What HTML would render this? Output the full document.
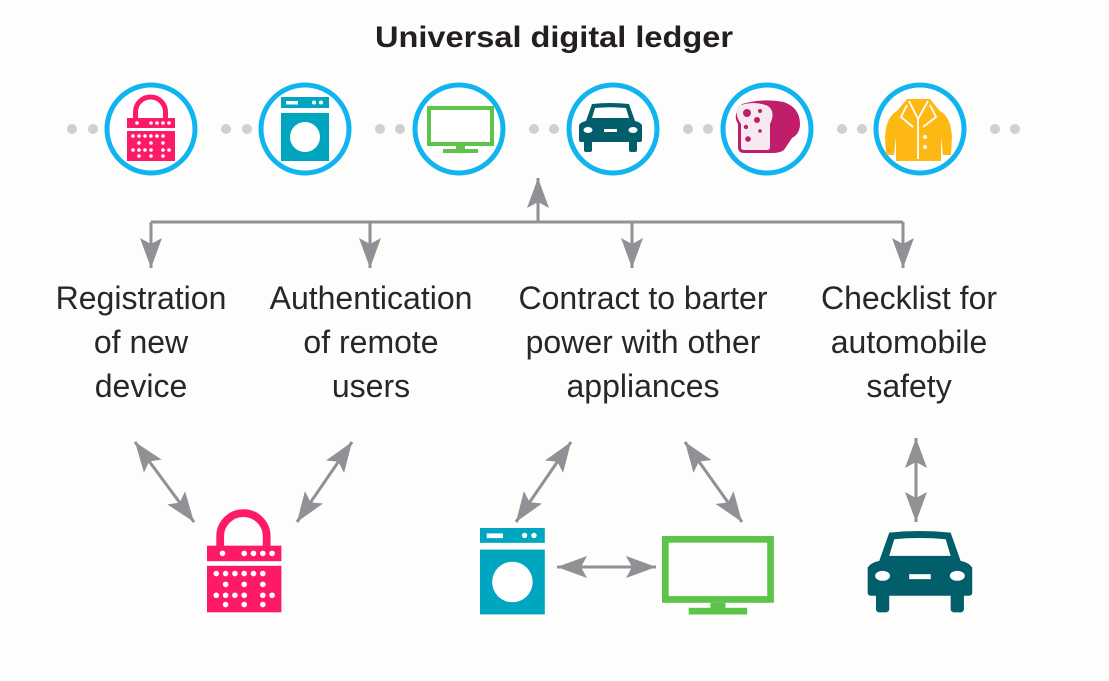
<!DOCTYPE html>
<html><head><meta charset="utf-8"><style>
html,body{margin:0;padding:0;background:#fdfdfb;}
svg{display:block;}
text{font-family:"Liberation Sans",Arial,sans-serif;}
</style></head><body>
<svg width="1109" height="681" viewBox="0 0 1109 681" xmlns="http://www.w3.org/2000/svg">
<defs>
<marker id="ah" viewBox="0 0 30 22" refX="30" refY="11" markerWidth="30" markerHeight="22" markerUnits="userSpaceOnUse" orient="auto-start-reverse">
<path d="M0,0 L30,11 L0,22 L6,11 Z" fill="#909095"/>
</marker>
<g id="lock">
<path d="M8.5,24 V17 A15,15 0 0 1 38.5,17 V24" fill="none" stroke="#ff1a66" stroke-width="5"/>
<rect x="0" y="23" width="48" height="10" fill="#ff1a66"/>
<rect x="0" y="36" width="48" height="30" fill="#ff1a66"/>
<g fill="#fff">
<circle cx="10" cy="28" r="1.8"/><circle cx="24" cy="28" r="1.8"/><circle cx="30" cy="28" r="1.8"/><circle cx="36" cy="28" r="1.8"/><circle cx="42" cy="28" r="1.8"/>
<circle cx="6" cy="41" r="1.8"/><circle cx="12" cy="41" r="1.8"/><circle cx="18" cy="41" r="1.8"/><circle cx="24" cy="41" r="1.8"/><circle cx="30" cy="41" r="1.8"/><circle cx="36" cy="41" r="1.8"/>
<circle cx="12" cy="48" r="1.8"/><circle cx="24" cy="48" r="1.8"/><circle cx="36" cy="48" r="1.8"/>
<circle cx="6" cy="55" r="1.8"/><circle cx="12" cy="55" r="1.8"/><circle cx="18" cy="55" r="1.8"/><circle cx="24" cy="55" r="1.8"/><circle cx="36" cy="55" r="1.8"/><circle cx="42" cy="55" r="1.8"/>
<circle cx="12" cy="61" r="1.8"/><circle cx="24" cy="61" r="1.8"/><circle cx="36" cy="61" r="1.8"/>
</g>
</g>
<g id="washer">
<rect x="0" y="0" width="48" height="11" fill="#00a5c0"/>
<rect x="0" y="16" width="48" height="48" fill="#00a5c0"/>
<rect x="5" y="4" width="12" height="3.5" fill="#fff"/>
<circle cx="33" cy="5.5" r="2" fill="#fff"/><circle cx="40" cy="5.5" r="2" fill="#fff"/>
<ellipse cx="24" cy="40" rx="15" ry="15" fill="#fff"/>
</g>
<g id="tv">
<rect x="2" y="2" width="63" height="36" fill="none" stroke="#5cc449" stroke-width="4"/>
<rect x="29" y="40" width="9" height="4" fill="#5cc449"/>
<rect x="16" y="43" width="35" height="4" fill="#5cc449"/>
</g>
<g id="car">
<path d="M14,1 Q32,-1 51,1 L57,18 Q62,19 64,22 V37 Q64,39 62,39 H3 Q1,39 1,37 V22 Q3,19 8,18 Z" fill="#035e6b"/>
<rect x="6" y="36" width="8" height="13" rx="2" fill="#035e6b"/>
<rect x="51" y="36" width="8" height="13" rx="2" fill="#035e6b"/>
<path d="M17,5 Q32,3.5 48,5 L51,15 H14 Z" fill="#fff"/>
<ellipse cx="10" cy="27" rx="4.5" ry="3" fill="#fff"/>
<ellipse cx="55" cy="27" rx="4.5" ry="3" fill="#fff"/>
<rect x="26" y="26" width="13" height="3" fill="#fff"/>
</g>
</defs>

<text x="554" y="47" text-anchor="middle" font-size="30" font-weight="bold" fill="#231f20" textLength="358" lengthAdjust="spacingAndGlyphs">Universal digital ledger</text>

<g fill="#d0d0d0">
<circle cx="72" cy="129" r="5"/><circle cx="93" cy="129" r="5"/>
<circle cx="226" cy="129" r="5"/><circle cx="247" cy="129" r="5"/>
<circle cx="380" cy="129" r="5"/><circle cx="400" cy="129" r="5"/>
<circle cx="534" cy="129" r="5"/><circle cx="554" cy="129" r="5"/>
<circle cx="688" cy="129" r="5"/><circle cx="708" cy="129" r="5"/>
<circle cx="842" cy="129" r="5"/><circle cx="862" cy="129" r="5"/>
<circle cx="995" cy="129" r="5"/><circle cx="1015" cy="129" r="5"/>
</g>
<g fill="#fff" stroke="#0fb4f0" stroke-width="5">
<circle cx="151" cy="129" r="44"/><circle cx="305" cy="129" r="44"/><circle cx="459" cy="129" r="44"/>
<circle cx="613" cy="129" r="44"/><circle cx="767" cy="129" r="44"/><circle cx="920" cy="129" r="44"/>
</g>
<use href="#lock" x="127" y="95"/>
<use href="#washer" x="281" y="97"/>
<use href="#tv" x="427" y="106"/>
<use href="#car" x="578" y="103"/>
<g transform="translate(732,100)">
<path d="M10,4 Q30,-2 52,2 Q68,8 68,24 Q68,34 60,38 L52,50 Q48,53 40,53 H12 Q6,53 6,47 V24 Q0,14 10,4 Z" fill="#c01d6a"/>
<path d="M6,6 Q22,0 36,6 Q44,12 38,24 V47 Q38,50 35,50 H12 Q9,50 9,47 V24 Q2,14 6,6 Z" fill="#f6e9ef"/>
<g fill="#c01d6a"><circle cx="15" cy="13" r="4"/><circle cx="28" cy="11" r="2"/><circle cx="25" cy="20" r="3"/><circle cx="14" cy="27" r="2.2"/><circle cx="28" cy="31" r="1.8"/><circle cx="16" cy="39" r="2.8"/></g>
</g>
<g transform="translate(885,97)">
<path d="M22,2 H45 L55,14 Q66,20 67,40 L66,58 H58 L56,40 L56,64 H11 L11,40 L9,58 H1 L0,40 Q1,20 12,14 Z" fill="#fdb813"/>
<path d="M24,4 L33,22 L43,4 M33,22 V62 M22,8 L16,20 L28,30 M45,8 L51,20 L38,30" fill="none" stroke="#fff" stroke-width="1.8"/>
<circle cx="40" cy="40" r="2" fill="#fff"/><circle cx="40" cy="50" r="2" fill="#fff"/>
</g>

<g stroke="#909095" stroke-width="3" fill="none">
<path d="M151,222 H903"/>
<line x1="538" y1="222" x2="538" y2="178" marker-end="url(#ah)"/>
<line x1="151" y1="222" x2="151" y2="268" marker-end="url(#ah)"/>
<line x1="370" y1="222" x2="370" y2="268" marker-end="url(#ah)"/>
<line x1="632" y1="222" x2="632" y2="268" marker-end="url(#ah)"/>
<line x1="903" y1="222" x2="903" y2="268" marker-end="url(#ah)"/>
</g>

<g font-size="32" fill="#2a2627" text-anchor="middle">
<text x="141" y="309">Registration</text><text x="141" y="353">of new</text><text x="141" y="397">device</text>
<text x="371" y="309">Authentication</text><text x="371" y="353">of remote</text><text x="371" y="397">users</text>
<text x="643" y="309">Contract to barter</text><text x="643" y="353">power with other</text><text x="643" y="397">appliances</text>
<text x="909" y="309">Checklist for</text><text x="909" y="353">automobile</text><text x="909" y="397">safety</text>
</g>

<g stroke="#909095" stroke-width="3" fill="none">
<line x1="135" y1="442" x2="194" y2="522" marker-start="url(#ah)" marker-end="url(#ah)"/>
<line x1="352" y1="442" x2="297" y2="522" marker-start="url(#ah)" marker-end="url(#ah)"/>
<line x1="571" y1="442" x2="516" y2="522" marker-start="url(#ah)" marker-end="url(#ah)"/>
<line x1="685" y1="442" x2="742" y2="522" marker-start="url(#ah)" marker-end="url(#ah)"/>
<line x1="916" y1="438" x2="916" y2="522" marker-start="url(#ah)" marker-end="url(#ah)"/>
<line x1="557" y1="567" x2="656" y2="567" marker-start="url(#ah)" marker-end="url(#ah)"/>
</g>

<use href="#lock" transform="translate(207,510) scale(1.55)"/>
<use href="#washer" transform="translate(480,528) scale(1.35)"/>
<use href="#tv" transform="translate(662,536) scale(1.67)"/>
<use href="#car" transform="translate(866,531) scale(1.66)"/>
</svg>
</body></html>
